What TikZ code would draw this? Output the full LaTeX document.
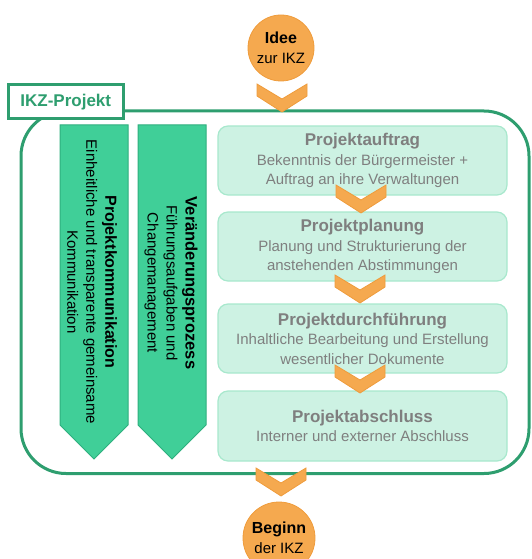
\documentclass[tikz,border=0pt]{standalone}
\usepackage{fontspec}
\setmainfont{Liberation Sans}
\definecolor{framegreen}{HTML}{2E9E6F}
\definecolor{arrowfill}{HTML}{40CF98}
\definecolor{arrowdraw}{HTML}{2EAF7E}
\definecolor{boxfill}{HTML}{CDF2E3}
\definecolor{boxdraw}{HTML}{A8E8CD}
\definecolor{orangefill}{HTML}{F5A94F}
\definecolor{orangedraw}{HTML}{EF9C3C}
\definecolor{txtgray}{HTML}{7F7F7F}
\tikzset{
  stagebox/.style={draw=boxdraw, line width=1.2pt, fill=boxfill, rounded corners=10pt,
    minimum width=289pt, minimum height=69pt, align=center, text=txtgray,
    font=\fontsize{15}{19.5}\selectfont, inner sep=0pt},
  sidearrow/.style={fill=arrowfill, draw=arrowdraw, line width=1pt},
  sidetext/.style={rotate=-90, align=center, font=\fontsize{15}{19}\selectfont, text=black, inner sep=0pt},
  orangecircle/.style={circle, fill=orangefill, draw=orangedraw, line width=0.8pt, align=center, inner sep=0pt, text=black,
    font=\fontsize{15}{20}\selectfont},
  chev/.pic={\path[fill=orangefill, draw=orangedraw, line width=0.8pt]
     (-25,0) -- (0,15) -- (25,0) -- (25,12) -- (0,28) -- (-25,12) -- cycle;}
}
\newcommand{\stitle}[1]{{\fontsize{17}{19.5}\selectfont\bfseries #1}}
\begin{document}
\begin{tikzpicture}[x=1pt,y=-1pt]
\useasboundingbox (0,0) rectangle (532,559);

% outer project frame
\node[draw=framegreen, line width=3pt, rounded corners=45pt, minimum width=508pt, minimum height=362.5pt, inner sep=0pt] (projekt) at (275,292.25) {};

% label
\node[draw=framegreen, line width=3pt, fill=white, minimum width=114.5pt, minimum height=34pt, inner sep=0pt, text=framegreen, font=\fontsize{17}{19}\selectfont\bfseries] (label) at (65.75,102) {IKZ-Projekt};

% side arrows
\path[sidearrow] (60,125) -- (128,125) -- (128,425) -- (94,459) -- (60,425) -- cycle;
\path[sidearrow] (138,125) -- (206,125) -- (206,425) -- (172,459) -- (138,425) -- cycle;
\node[sidetext] (komm) at (92,282) {{\fontsize{16}{19}\selectfont\bfseries Projektkommunikation}\\Einheitliche und transparente gemeinsame\\Kommunikation};
\node[sidetext] (wandel) at (171,283) {{\fontsize{16.5}{19}\selectfont\bfseries Veränderungsprozess}\\Führungsaufgaben und\\Changemanagement};

% stage boxes
\node[stagebox] (b1) at (362.5,160.5) {\stitle{Projektauftrag}\\Bekenntnis der Bürgermeister +\\Auftrag an ihre Verwaltungen};
\node[stagebox] (b2) at (362.5,246.5) {\stitle{Projektplanung}\\Planung und Strukturierung der\\anstehenden Abstimmungen};
\node[stagebox] (b3) at (362.5,338.5) {\stitle{Projektdurchführung}\\Inhaltliche Bearbeitung und Erstellung\\wesentlicher Dokumente};
\node[stagebox, minimum height=70pt] (b4) at (362.5,426) {\stitle{Projektabschluss}\\Interner und externer Abschluss};

% circles
\node[orangecircle, minimum size=66pt] (idee) at (281,48) {{\fontsize{16}{20}\selectfont\bfseries Idee}\\zur IKZ};
\node[orangecircle, minimum size=72pt] (beginn) at (279,538) {{\fontsize{16}{20}\selectfont\bfseries Beginn}\\der IKZ};

% chevrons
\pic at (282,84) {chev};
\pic at (361,185) {chev};
\pic at (360,275) {chev};
\pic at (360,365) {chev};
\pic at (281,468) {chev};
\end{tikzpicture}
\end{document}
